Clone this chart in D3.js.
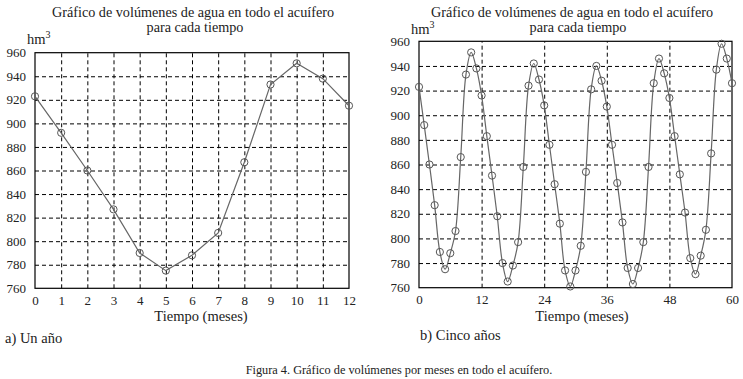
<!DOCTYPE html>
<html lang="es">
<head>
<meta charset="UTF-8">
<title>Gráfico de volúmenes de agua</title>
<style>
    body {
        margin: 0;
        background: #fff;
    }
    .grid line {
        stroke: #000;
        stroke-dasharray: 4,3;
        stroke-width: 1;
    }
</style>
</head>
<body>
<div id="chart"></div>
<script src="https://d3js.org/d3.v7.min.js"></script>
<script>
    // values (hm3)
    var monthsYear = [0, 1, 2, 3, 4, 5, 6, 7, 8, 9, 10, 11, 12];
    var volumeYear = [923, 892, 860, 827, 790, 775, 788, 807, 867, 933, 951, 938, 915];

    var volumeFive = [
        923, 892, 860, 827, 789, 775, 788, 806, 866, 933, 951, 938, 916,
        883, 851, 818, 780, 765, 778, 797, 858, 924, 942, 929, 908,
        876, 844, 812, 774, 761, 774, 794, 854, 921, 940, 928, 907,
        876, 845, 813, 776, 763, 776, 797, 858, 926, 946, 934, 914,
        883, 852, 821, 784, 771, 786, 807, 869, 937, 958, 946, 926
    ];
    var monthsFive = volumeFive.map((d, i) => i);

    var yTicks = [760, 780, 800, 820, 840, 860, 880, 900, 920, 940, 960];
    var xTicksYear = [0, 1, 2, 3, 4, 5, 6, 7, 8, 9, 10, 11, 12];
    var xTicksFive = [0, 12, 24, 36, 48, 60];

    var titleLines = ["Gráfico de volúmenes de agua en todo el acuífero", "para cada tiempo"];
    var xLabel = "Tiempo (meses)";
    var caption = "Figura 4. Gráfico de volúmenes por meses en todo el acuífero.";

    var serif = "'Liberation Serif', 'DejaVu Serif', serif";

    var svg = d3.select("#chart")
        .append("svg")
        .attr("width", 743)
        .attr("height", 379)
        .style("font-family", serif);

    function label(x, y, size, txt, anchor) {
        return svg.append("text")
            .attr("x", x)
            .attr("y", y)
            .style("font-family", serif)
            .style("font-size", size + "px")
            .style("fill", "#222")
            .style("text-anchor", anchor || "start")
            .text(txt);
    }

    function drawPanel(opt) {
        var x = d3.scaleLinear().domain(opt.xDomain).range([opt.left, opt.right]);
        var y = d3.scaleLinear().domain([760, 960]).range([opt.bottom, opt.top]);
        var w = opt.right - opt.left,
            h = opt.bottom - opt.top;

        // dashed grid
        svg.append("g")
            .attr("class", "grid")
            .attr("transform", "translate(0," + opt.bottom + ")")
            .call(d3.axisBottom(x).tickValues(opt.gridX).tickSize(-h).tickFormat(""))
            .call(g => g.select(".domain").remove());

        svg.append("g")
            .attr("class", "grid")
            .attr("transform", "translate(" + opt.left + ",0)")
            .call(d3.axisLeft(y).tickValues(yTicks.slice(1, -1)).tickSize(-w).tickFormat(""))
            .call(g => g.select(".domain").remove());

        // tick labels
        var ya = svg.append("g")
            .attr("transform", "translate(" + (opt.left - 9) + ",0)")
            .call(d3.axisLeft(y).tickValues(yTicks).tickSize(0));
        ya.attr("font-family", null);
        ya.select(".domain").remove();
        ya.selectAll("text")
            .attr("x", 0)
            .style("font-family", serif)
            .style("font-size", "13px")
            .style("fill", "#222");

        var xa = svg.append("g")
            .attr("transform", "translate(0," + (opt.bottom + 3) + ")")
            .call(d3.axisBottom(x).tickValues(opt.xTicks).tickSize(0));
        xa.attr("font-family", null);
        xa.select(".domain").remove();
        xa.selectAll("text")
            .attr("y", 4)
            .style("font-family", serif)
            .style("font-size", "13px")
            .style("fill", "#222");

        // frame
        svg.append("rect")
            .attr("x", opt.left)
            .attr("y", opt.top)
            .attr("width", w)
            .attr("height", h)
            .attr("fill", "none")
            .attr("stroke", "#000")
            .attr("stroke-width", 1.2);

        // series
        var line = d3.line()
            .x((d, i) => x(opt.months[i]))
            .y(d => y(d))
            .curve(opt.curve);

        svg.append("path")
            .datum(opt.values)
            .attr("d", line)
            .attr("fill", "none")
            .attr("stroke", "#666")
            .attr("stroke-width", 1.2);

        svg.append("g")
            .selectAll("circle")
            .data(opt.values)
            .enter()
            .append("circle")
            .attr("cx", (d, i) => x(opt.months[i]))
            .attr("cy", d => y(d))
            .attr("r", 3.6)
            .attr("fill", "none")
            .attr("stroke", "#555")
            .attr("stroke-width", 1);

        // texts
        label(opt.titleX, 17, 14.2, titleLines[0], "middle");
        label(opt.titleX2, opt.title2Y, 14.2, titleLines[1], "middle");

        var hm = label(opt.hmX, opt.hmY, 14.5, "hm");
        hm.append("tspan").attr("dy", -6).style("font-size", "10px").text("3");

        label(opt.xLabelX, 321, 14.5, xLabel, "middle");
        label(opt.capX, opt.capY, 14.5, opt.cap);
    }

    drawPanel({
        left: 35, right: 349, top: 52.7, bottom: 288.3,
        xDomain: [0, 12],
        xTicks: xTicksYear,
        gridX: xTicksYear.slice(1, -1),
        months: monthsYear,
        values: volumeYear,
        curve: d3.curveLinear,
        titleX: 193, titleX2: 195, title2Y: 31.5,
        hmX: 27, hmY: 44,
        xLabelX: 201,
        capX: 5, capY: 343, cap: "a) Un año"
    });

    drawPanel({
        left: 419, right: 732, top: 41.3, bottom: 287.7,
        xDomain: [0, 60],
        xTicks: xTicksFive,
        gridX: xTicksFive.slice(1, -1),
        months: monthsFive,
        values: volumeFive,
        curve: d3.curveCatmullRom.alpha(0.5),
        titleX: 572, titleX2: 578, title2Y: 32,
        hmX: 411, hmY: 34,
        xLabelX: 582,
        capX: 420, capY: 340, cap: "b) Cinco años"
    });

    label(399, 374, 12.3, caption, "middle");
</script>
</body>
</html>
